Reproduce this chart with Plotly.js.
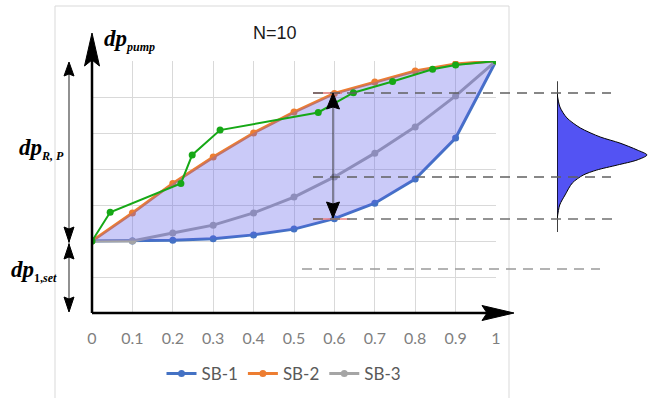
<!DOCTYPE html>
<html>
<head>
<meta charset="utf-8">
<script src="https://cdn.plot.ly/plotly-3.0.1.min.js"></script>
<style>html,body{margin:0;padding:0;background:#fff;}#chart{width:651px;height:398px;}</style>
</head>
<body>
<div id="chart"></div>
<script>
// ---- data ----
const xVals = [0, 0.1, 0.2, 0.3, 0.4, 0.5, 0.6, 0.7, 0.8, 0.9, 1.0];
const tickLabels = ["0", "0.1", "0.2", "0.3", "0.4", "0.5", "0.6", "0.7", "0.8", "0.9", "1"];
const sb1 = [2.0, 2.0, 2.02, 2.06, 2.17, 2.33, 2.62, 3.05, 3.72, 4.86, 7.0];
const sb2 = [2.0, 2.78, 3.6, 4.33, 5.0, 5.58, 6.1, 6.42, 6.72, 6.92, 7.0];
const sb3 = [2.0, 2.0, 2.22, 2.44, 2.78, 3.22, 3.78, 4.44, 5.17, 6.03, 7.0];
const greenX = [0, 0.045, 0.22, 0.248, 0.317, 0.56, 0.647, 0.744, 0.843, 0.9, 1.0];
const greenY = [2.0, 2.8, 3.6, 4.39, 5.08, 5.57, 6.12, 6.43, 6.77, 6.89, 7.0];
// distribution on the right (position on y scale, relative density)
const distY = [6.11, 5.72, 5.42, 5.14, 4.89, 4.72, 4.53, 4.39, 4.25, 4.11, 3.97, 3.83, 3.61, 3.28, 3.0, 2.58];
const distD = [0, 0.033, 0.11, 0.26, 0.48, 0.70, 0.89, 1.0, 0.89, 0.67, 0.44, 0.29, 0.17, 0.09, 0.03, 0];
const distAxisY = [2.25, 6.44];
const distAxisD = [0, 0];

// ---- geometry helpers (pixel -> paper) ----
const L = 92, T = 61, PW = 559, PH = 252;
const px = x => (x - L) / PW;
const py = y => (T + PH - y) / PH;

const shapes = [];
function line(x0, y0, x1, y1, color, width, dash, layer) {
  shapes.push({type: 'line', xref: 'paper', yref: 'paper', x0: px(x0), y0: py(y0), x1: px(x1), y1: py(y1),
    line: {color: color, width: width, dash: dash || 'solid'}, layer: layer || 'above'});
}
function head(tx, ty, dir, len, half, notch, color) {
  let pts;
  if (dir === 'up') pts = [[tx, ty], [tx - half, ty + len], [tx, ty + len - notch], [tx + half, ty + len]];
  else if (dir === 'down') pts = [[tx, ty], [tx - half, ty - len], [tx, ty - len + notch], [tx + half, ty - len]];
  else pts = [[tx, ty], [tx - len, ty - half], [tx - len + notch, ty], [tx - len, ty + half]];
  const p = 'M ' + pts.map(q => px(q[0]) + ',' + py(q[1])).join(' L ') + ' Z';
  shapes.push({type: 'path', xref: 'paper', yref: 'paper', path: p, fillcolor: color, line: {color: color, width: 1}, layer: 'above'});
}

// outer light border
shapes.push({type: 'rect', xref: 'paper', yref: 'paper', x0: px(55), y0: py(6), x1: px(509), y1: py(410),
  line: {color: '#d9d9d9', width: 1}, layer: 'below'});

// red marks
line(313, 93, 342, 93, '#e07070', 1.5);
line(313, 219, 350, 219, '#f08080', 1.5);
// dashed guide lines
line(313, 93, 611, 93, '#606060', 1.5, '10px,7px');
line(313, 177, 611, 177, '#606060', 1.5, '10px,7px');
line(313, 219, 612, 219, '#707070', 1.5, '10px,7px');
line(302, 269, 600, 269, '#9a9a9a', 1.5, '10px,7px');

// main axes arrows
line(92, 313, 92, 52, '#000', 2.5);
head(92, 33, 'up', 33, 7.5, 6, '#000');
line(92, 313, 492, 313, '#000', 2.5);
head(514, 313, 'right', 32, 7.5, 5, '#000');

// left gray dimension arrows
line(69, 66, 69, 309, '#555', 1.3);
head(69, 62, 'up', 14, 5, 2, '#000');
head(69, 242, 'down', 15, 5, 2, '#000');
head(69, 244, 'up', 15, 5, 2, '#000');
head(69, 312, 'down', 15, 5, 2, '#000');

// middle double arrow
line(333, 98, 333, 214, '#333', 1);
head(333, 93, 'up', 16, 6.5, 2, '#000');
head(333, 218, 'down', 16, 6.5, 2, '#000');

const serif = 'Liberation Serif, DejaVu Serif, serif';
const sub = s => '<sub><span style="font-size:12px">' + s + '</span></sub>';
const annotations = [
  {xref: 'paper', yref: 'paper', x: px(275), y: py(33), xanchor: 'center', yanchor: 'middle', showarrow: false,
   text: 'N=10', font: {family: 'Liberation Sans, Arial, sans-serif', size: 18, color: '#1a1a1a'}},
  {xref: 'paper', yref: 'paper', x: px(102), y: py(40), xanchor: 'left', yanchor: 'middle', showarrow: false,
   text: '<b><i>dp</i></b>' + sub('<b><i>pump</i></b>'), font: {family: serif, size: 23, color: '#000'}},
  {xref: 'paper', yref: 'paper', x: px(17), y: py(149), xanchor: 'left', yanchor: 'middle', showarrow: false,
   text: '<b><i>dp</i></b>' + sub('<b><i>R, P</i></b>'), font: {family: serif, size: 23, color: '#000'}},
  {xref: 'paper', yref: 'paper', x: px(9), y: py(271), xanchor: 'left', yanchor: 'middle', showarrow: false,
   text: '<b><i>dp</i></b>' + sub('<b>1,<i>set</i></b>'), font: {family: serif, size: 23, color: '#000'}}
];

const fillCol = 'rgba(95,95,235,0.33)';
const traces = [
  {x: xVals, y: sb1, name: 'SB-1', mode: 'lines+markers', line: {color: '#4472C4', width: 3}, marker: {size: 7, color: '#4472C4'}},
  {x: xVals, y: sb2, name: 'SB-2', mode: 'lines+markers', line: {color: '#ED7D31', width: 3}, marker: {size: 7, color: '#ED7D31'}},
  {x: xVals, y: sb3, name: 'SB-3', mode: 'lines+markers', line: {color: '#A5A5A5', width: 3}, marker: {size: 7, color: '#A5A5A5'}},
  {x: xVals, y: sb1, mode: 'lines', line: {width: 0, color: 'rgba(0,0,0,0)'}, showlegend: false, hoverinfo: 'skip'},
  {x: xVals, y: sb2, mode: 'lines', fill: 'tonexty', fillcolor: fillCol, line: {width: 0, color: 'rgba(0,0,0,0)'}, showlegend: false, hoverinfo: 'skip'},
  {x: greenX, y: greenY, mode: 'lines+markers', line: {color: '#16A816', width: 2}, marker: {size: 7, color: '#16A816'}, showlegend: false},
  {x: distD, y: distY, xaxis: 'x2', yaxis: 'y2', mode: 'lines', line: {color: '#000', width: 1, shape: 'spline', smoothing: 0.8},
   fill: 'toself', fillcolor: '#5353F3', showlegend: false},
  {x: distAxisD, y: distAxisY, xaxis: 'x2', yaxis: 'y2', mode: 'lines', line: {color: '#000', width: 1.5}, showlegend: false}
];

const layout = {
  width: 651, height: 398,
  margin: {l: L, r: 651 - L - PW, t: T, b: 398 - T - PH},
  paper_bgcolor: '#fff', plot_bgcolor: 'rgba(0,0,0,0)',
  showlegend: true,
  legend: {orientation: 'h', traceorder: 'normal', x: px(284), xanchor: 'center', y: py(374), yanchor: 'middle',
    font: {family: 'Lato, Carlito, sans-serif', size: 17, color: '#595959'}, itemwidth: 30, bgcolor: 'rgba(0,0,0,0)'},
  xaxis: {domain: [0, 404 / PW], range: [0, 1], tickvals: xVals, ticktext: tickLabels, showgrid: true,
    gridcolor: '#d9d9d9', gridwidth: 1, zeroline: false, showline: false, ticks: 'outside', ticklen: 11,
    tickcolor: 'rgba(0,0,0,0)', tickfont: {family: 'Lato, Carlito, sans-serif', size: 16, color: '#7f7f7f'}},
  yaxis: {range: [0, 7], dtick: 1, showgrid: true, gridcolor: '#d9d9d9', gridwidth: 1, zeroline: false,
    showline: false, showticklabels: false, ticks: ''},
  xaxis2: {domain: [(557 - L) / PW, 1], range: [0, 1.045], anchor: 'y2', visible: false, showgrid: false, zeroline: false},
  yaxis2: {range: [0, 7], anchor: 'x2', visible: false, showgrid: false, zeroline: false},
  shapes: shapes,
  annotations: annotations
};

Plotly.newPlot('chart', traces, layout, {staticPlot: true, displayModeBar: false});
</script>
</body>
</html>
